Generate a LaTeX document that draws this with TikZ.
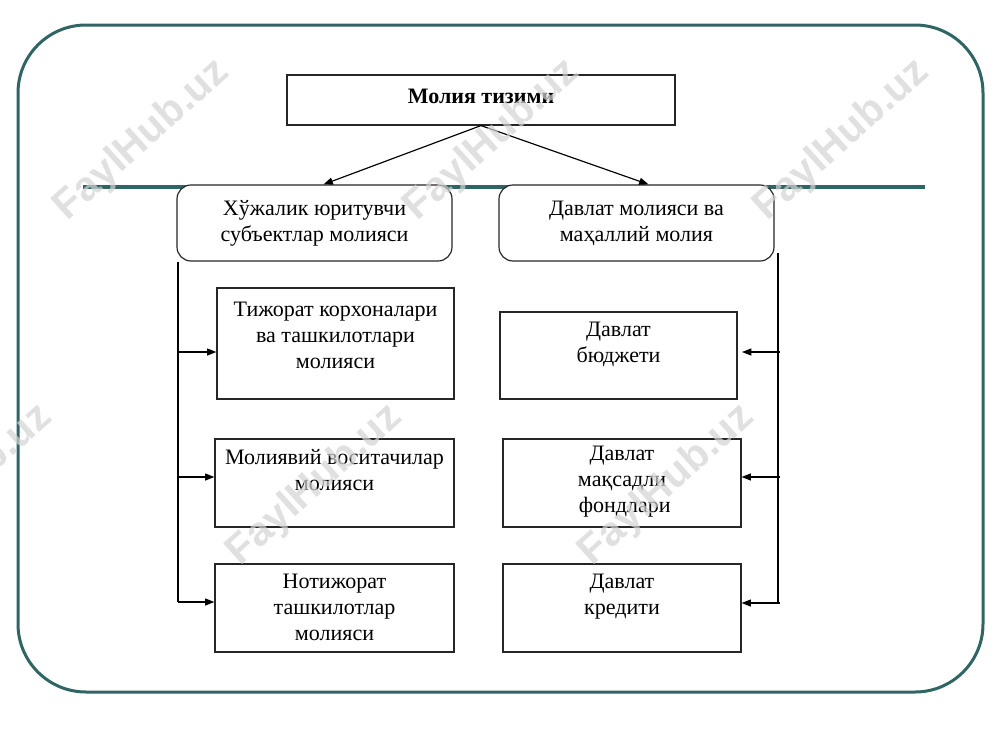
\documentclass[tikz,border=0pt]{standalone}
\usepackage{fontspec}
\setmainfont{Liberation Serif}
\newfontfamily\wmfont{Liberation Sans}
\usetikzlibrary{arrows.meta}
\definecolor{frameteal}{HTML}{2F6664}
\definecolor{wmgray}{HTML}{D3D3D3}
\def\pxu{0.85358pt}
\begin{document}
\begin{tikzpicture}[x=0.03cm,y=-0.03cm,
  box/.style={draw=black!85, line width=1pt, fill=white, inner sep=0pt},
  hub/.style={box, rounded corners=14*\pxu},
  wh/.style 2 args={minimum width={#1*\pxu}, minimum height={#2*\pxu}},
  txt/.style={align=center, inner sep=0pt, font=\fontsize{18.8}{22.2}\selectfont},
  conn/.style={line width=1pt, draw=black},
  arr/.style={-{Triangle[length=8pt,width=6pt]}},
  teal/.style={draw=frameteal, line width=3*\pxu},
  wm/.style={text=wmgray, opacity=0.7, rotate=42, font=\wmfont\bfseries\fontsize{35}{40}\selectfont, inner sep=0pt}
]
\fill[white] (0,0) rectangle (1000,750);
\useasboundingbox (0,0) rectangle (1000,750);

% frame and rule
\draw[teal, rounded corners=68*\pxu] (18,25) rectangle (983,692);
\draw[teal, line width=3.6*\pxu] (83,187) -- (925,187);

% nodes
\node[box, wh={388}{50}, label={[txt, name=topt, yshift=4*\pxu]center:{\bfseries Молия тизими}}] (top) at (481,100) {};
\node[hub, wh={275}{76}, label={[txt, name=lht]center:Хўжалик юритувчи\\субъектлар молияси}] (lh) at (314.5,223) {};
\node[hub, wh={275}{76}, label={[txt, name=rht]center:Давлат молияси ва\\маҳаллий молия}] (rh) at (636.5,223) {};

\node[box, wh={237}{111}, label={[txt, name=b1t, yshift=8*\pxu]center:Тижорат корхоналари\\ва ташкилотлари\\молияси}] (b1) at (335.5,343.5) {};
\node[box, wh={239}{88}, label={[txt, name=b2t, yshift=13*\pxu]center:Молиявий воситачилар\\молияси}] (b2) at (334.5,483) {};
\node[box, wh={239}{88}, label={[txt, name=b3t, yshift=1*\pxu]center:Нотижорат\\ташкилотлар\\молияси}] (b3) at (334.5,608) {};

\node[box, wh={237}{87}, label={[txt, name=b4t, yshift=11*\pxu]center:Давлат\\бюджети}] (b4) at (618.5,355.5) {};
\node[box, wh={238}{88}, label={[txt, name=b5t, yshift=1*\pxu]center:Давлат\\мақсадли\\\ фондлари}] (b5) at (622,483) {};
\node[box, wh={238}{88}, label={[txt, name=b6t, yshift=11*\pxu]center:Давлат\\кредити}] (b6) at (622,608) {};

% top arrows
\draw[conn, arr] (top.south) -- ([xshift=9*\pxu]lh.north);
\draw[conn, arr] (top.south) -- ([xshift=12*\pxu]rh.north);

% left bus
\coordinate (l1) at (178,352);
\coordinate (l2) at (178,477);
\coordinate (l3) at (178,602);
\draw[conn] (lh.south west -| l1) -- (l3);
\draw[conn, arr] (l1) -- (l1 -| b1.west);
\draw[conn, arr] (l2) -- (l2 -| b2.west);
\draw[conn, arr] (l3) -- (l3 -| b3.west);

% right bus
\coordinate (r0) at (778,253);
\coordinate (rb) at (778,603);
\coordinate (r1) at (780,352);
\coordinate (r2) at (780,477);
\coordinate (r3) at (780,603);
\coordinate (r1tip) at (742,352);
\draw[conn] (r0) -- (rb);
\draw[conn, arr] (r1) -- (r1tip);
\draw[conn, arr] (r2) -- (r2 -| b5.east);
\draw[conn, arr] (r3) -- (r3 -| b6.east);

% watermarks
\node[wm] (w1) at (142,140) {FaylHub.uz};
\node[wm] (w2) at (492,140) {FaylHub.uz};
\node[wm] (w3) at (842,140) {FaylHub.uz};
\node[wm] (w4) at (-35,485) {FaylHub.uz};
\node[wm] (w5) at (315,485) {FaylHub.uz};
\node[wm] (w6) at (667,485) {FaylHub.uz};
\end{tikzpicture}
\end{document}
